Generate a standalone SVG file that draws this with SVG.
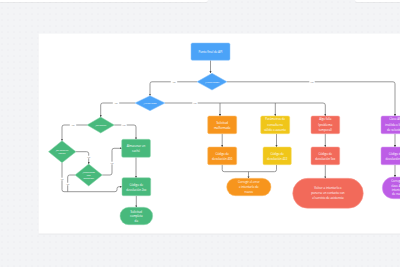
<svg xmlns="http://www.w3.org/2000/svg" width="400" height="267" viewBox="0 0 400 267">
<defs>
<pattern id="dots" width="6" height="6" patternUnits="userSpaceOnUse" x="1" y="1">
<circle cx="1" cy="1" r="0.45" fill="#d9dade"/>
</pattern>
<marker id="arr" viewBox="0 0 6 6" refX="5.5" refY="3" markerWidth="3" markerHeight="3" orient="auto">
<path d="M0,0 L6,3 L0,6 Z" fill="#4a4a4a"/>
</marker>
<filter id="sh" x="-5%" y="-5%" width="110%" height="110%">
<feDropShadow dx="0" dy="0.4" stdDeviation="0.6" flood-color="#000" flood-opacity="0.12"/>
</filter>
</defs>
<style>
.t{font-family:"Open Sans","Liberation Sans",sans-serif;font-size:2.9px;fill:#ffffff;text-anchor:middle}
.d{font-size:2.2px}
.lbl{font-family:"Open Sans","Liberation Sans",sans-serif;font-size:1.9px;fill:#777;text-anchor:middle}
.lb{fill:#ffffff}
.c{fill:none;stroke:#6f6f6f;stroke-width:0.7}
.ca{marker-end:url(#arr)}
.blue{fill:#4ba3f8;stroke:#8cc4fb;stroke-width:0.5}
.green{fill:#48b97c;stroke:#8fd6ae;stroke-width:0.5}
.orange{fill:#f7951d;stroke:#fbbf70;stroke-width:0.5}
.yellow{fill:#f0c619;stroke:#f7dc6c;stroke-width:0.5}
.red{fill:#f26a5a;stroke:#f8a196;stroke-width:0.5}
.purple{fill:#bd5de6;stroke:#d79cf0;stroke-width:0.5}
</style>
<rect width="400" height="267" fill="#f3f4f6"/>
<rect width="400" height="267" fill="url(#dots)"/>
<rect x="-2" y="-4" width="210" height="6" rx="2" fill="#ffffff" filter="url(#sh)"/>
<rect x="355" y="-4" width="50" height="6" rx="2" fill="#ffffff" filter="url(#sh)"/>
<rect x="38.5" y="33.5" width="370" height="200" fill="#ffffff" filter="url(#sh)"/>

<g id="connectors">
<path class="c ca" d="M210.5,60.3 V73"/>
<path class="c ca" d="M197,81.8 H152 Q150,81.8 150,83.8 V95.7"/>
<path class="c ca" d="M227,81.8 H393 Q395,81.8 395,83.8 V116"/>
<path class="c" d="M165,103 H323 Q325.3,103 325.3,105"/>
<path class="c ca" d="M325.3,105 V116"/>
<path class="c ca" d="M220,103 V116"/>
<path class="c ca" d="M275.3,103 V116"/>
<path class="c ca" d="M135,103 H102.7 Q100.7,103 100.7,105 V117"/>
<path class="c ca" d="M87,125 H64 Q62,125 62,127 V140.7"/>
<path class="c ca" d="M114.3,125 H134 Q136,125 136,127 V139.3"/>
<path class="c ca" d="M76,151.7 H86.7 Q88.7,151.7 88.7,153.7 V164"/>
<path class="c ca" d="M62,162.7 V189.7 Q62,191.7 64,191.7 H115 Q117,191.7 117,189.7 V188.7 Q117,186.7 119,186.7 H121.7"/>
<path class="c" d="M75,175 H69.7 Q67.7,175 67.7,177 V191.7"/>
<path class="c ca" d="M102.3,175 H110 Q112,175 112,173 V150.3 Q112,148.3 114,148.3 H121.7"/>
<path class="c ca" d="M136,157.3 V177.7"/>
<path class="c ca" d="M136.3,195.7 V207.3"/>
<path class="c ca" d="M222.2,133.7 V147"/>
<path class="c ca" d="M276.5,133.7 V147"/>
<path class="c" d="M222.2,164.7 V169.7 Q222.2,171.7 224.2,171.7 H274.5 Q276.5,171.7 276.5,169.7 V164.7"/>
<path class="c ca" d="M248.5,171.7 V178.3"/>
<path class="c ca" d="M325.3,133.7 V147"/>
<path class="c ca" d="M325.3,164.7 V178.3"/>
<path class="c ca" d="M395,133.7 V147"/>
<path class="c ca" d="M395,164.7 V177"/>
<rect class="lb" x="170.8" y="80.5" width="6.4" height="2.6"/><text class="lbl" x="174" y="82.5">YES</text>
<rect class="lb" x="309.3" y="80.5" width="5.4" height="2.6"/><text class="lbl" x="312" y="82.5">NO</text>
<rect class="lb" x="112.8" y="101.7" width="6.4" height="2.6"/><text class="lbl" x="116" y="103.7">YES</text>
<rect class="lb" x="192.3" y="101.7" width="5.4" height="2.6"/><text class="lbl" x="195" y="103.7">NO</text>
<rect class="lb" x="69.8" y="123.7" width="6.4" height="2.6"/><text class="lbl" x="73" y="125.7">YES</text>
<rect class="lb" x="121.3" y="123.7" width="5.4" height="2.6"/><text class="lbl" x="124" y="125.7">NO</text>
<rect class="lb" x="86" y="155.7" width="5.4" height="2.6"/><text class="lbl" x="88.7" y="157.7">NO</text>
<rect class="lb" x="58.8" y="177.7" width="6.4" height="2.6"/><text class="lbl" x="62" y="179.7">YES</text>
<rect class="lb" x="109.3" y="161.7" width="5.4" height="2.6"/><text class="lbl" x="112" y="163.7">NO</text>
<rect class="lb" x="64.5" y="182.7" width="6.4" height="2.6"/><text class="lbl" x="67.7" y="184.7">YES</text>
</g>

<g id="n-punto"><rect class="blue" x="191" y="43" width="39" height="17.3" rx="1.5"/><text class="t" x="210.5" y="52.6">Punto final de API</text></g>
<g id="n-autenticado"><polygon class="blue" points="212,73.3 227,81.8 212,90 197,81.8"/><text class="t d" x="212" y="82.6">¿Autenticado?</text></g>
<g id="n-autorizado"><polygon class="blue" points="150,95.7 165,103 150,110.7 135,103"/><text class="t d" x="150" y="103.8">¿Autorizado?</text></g>
<g id="n-encache"><polygon class="green" points="100.7,117 114.3,125 100.7,133 87,125"/><text class="t d" x="100.7" y="125.8">¿En caché?</text></g>
<g id="n-valida"><polygon class="green" points="62,140.7 76,151.7 62,162.7 48.5,151.7"/><text class="t d" x="62" y="151">¿Es válida su</text><text class="t d" x="62" y="154">caché?</text></g>
<g id="n-sensibles"><polygon class="green" points="88.7,164 102.3,175 88.7,186 75,175"/><text class="t d" x="88.7" y="173.2">¿Resultados</text><text class="t d" x="88.7" y="176">son</text><text class="t d" x="88.7" y="178.8">sensibles?</text></g>
<g id="n-almacenar"><rect class="green" x="121.7" y="139.3" width="28.7" height="18" rx="1.5"/><text class="t" x="136" y="147.3">Almacenar en</text><text class="t" x="136" y="152.3">caché</text></g>
<g id="n-2xx"><rect class="green" x="122" y="177.7" width="28.7" height="18" rx="1.5"/><text class="t" x="136.3" y="185.7">Código de</text><text class="t" x="136.3" y="190.7">devolución 2xx</text></g>
<g id="n-completada"><rect class="green" x="120" y="207.3" width="32.7" height="17.4" rx="8.7"/><text class="t" x="136.3" y="212.5">Solicitud</text><text class="t" x="136.3" y="217">completa</text><text class="t" x="136.3" y="221.5">da</text></g>
<g id="n-malformada"><rect class="orange" x="207.7" y="116" width="29" height="17.7" rx="1.5"/><text class="t" x="222.2" y="123.9">Solicitud</text><text class="t" x="222.2" y="128.9">malformada</text></g>
<g id="n-400"><rect class="orange" x="207.7" y="147" width="29" height="17.7" rx="1.5"/><text class="t" x="222.2" y="154.9">Código de</text><text class="t" x="222.2" y="159.9">devolución 400</text></g>
<g id="n-parametros"><rect class="yellow" x="260.7" y="116" width="29" height="17.7" rx="1.5"/><text class="t" x="275.2" y="120.4">Parámetros de</text><text class="t" x="275.2" y="125.5">consulta no</text><text class="t" x="275.2" y="130.6">válido o ausente</text></g>
<g id="n-422"><rect class="yellow" x="263" y="147" width="28.3" height="17.7" rx="1.5"/><text class="t" x="277.2" y="154.9">Código de</text><text class="t" x="277.2" y="159.9">devolución 422</text></g>
<g id="n-corregir"><rect class="orange" x="226.7" y="178.3" width="44.3" height="17.4" rx="8.7"/><text class="t" x="248.8" y="183.2">Corregir el error</text><text class="t" x="248.8" y="188">e intentarlo de</text><text class="t" x="248.8" y="192.8">nuevo</text></g>
<g id="n-algofalla"><rect class="red" x="311" y="116" width="28.7" height="17.7" rx="1.5"/><text class="t" x="325.3" y="120.4">Algo falla</text><text class="t" x="325.3" y="125.5">(problema</text><text class="t" x="325.3" y="130.6">temporal)</text></g>
<g id="n-5xx"><rect class="red" x="311" y="147" width="28.7" height="17.7" rx="1.5"/><text class="t" x="325.3" y="154.9">Código de</text><text class="t" x="325.3" y="159.9">devolución 5xx</text></g>
<g id="n-volver"><rect class="red" x="292.7" y="178.3" width="70.6" height="30" rx="15"/><text class="t" x="328" y="189.3">Volver a intentarlo o</text><text class="t" x="328" y="194.3">ponerse en contacto con</text><text class="t" x="328" y="199.3">el servicio de asistencia</text></g>
<g id="n-clave"><rect class="purple" x="381" y="116" width="29" height="17.7" rx="1.5"/><text class="t" x="395.5" y="120.4">Clave API</text><text class="t" x="395.5" y="125.5">inválida o límite</text><text class="t" x="395.5" y="130.6">de velocidad</text></g>
<g id="n-4xx"><rect class="purple" x="381" y="147" width="29" height="17.7" rx="1.5"/><text class="t" x="395.5" y="154.9">Código de</text><text class="t" x="395.5" y="159.9">devolución 4xx</text></g>
<g id="n-clavefix"><rect class="purple" x="382.3" y="177" width="32" height="21.7" rx="10.8"/><text class="t" x="398.3" y="182.3">Corregir la</text><text class="t" x="398.3" y="186.6">clave API e</text><text class="t" x="398.3" y="190.9">intentarlo</text><text class="t" x="398.3" y="195.2">de nuevo</text></g>
</svg>
